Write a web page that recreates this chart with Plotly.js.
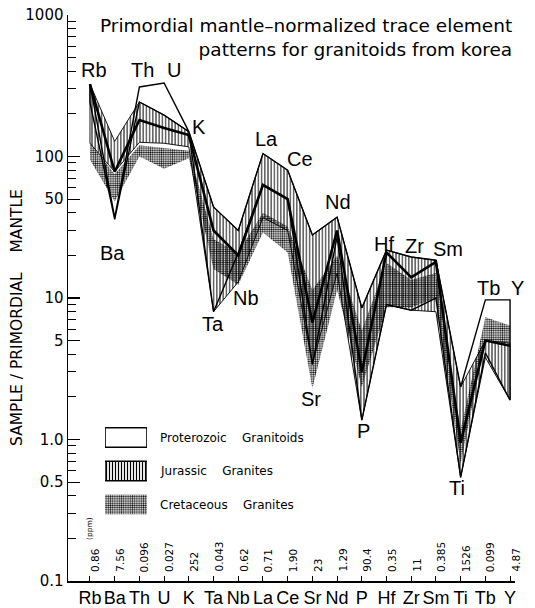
<!DOCTYPE html>
<html>
<head>
<meta charset="utf-8">
<script src="https://cdn.plot.ly/plotly-3.0.1.min.js"></script>
<style>html,body{margin:0;padding:0;background:#fff;}#chart{width:535px;height:608px;}</style>
</head>
<body>
<div id="chart"></div>
<script>
// ---- data ----
const categories = ['Rb','Ba','Th','U','K','Ta','Nb','La','Ce','Sr','Nd','P','Hf','Zr','Sm','Ti','Tb','Y'];
const ppmValues = ['0.86','7.56','0.096','0.027','252','0.043','0.62','0.71','1.90','23','1.29','90.4','0.35','11','0.385','1526','0.099','4.87'];

const proterozoicUpper = [325, 37, 310, 331, 150, 44, 30, 105, 80, 27.9, 37.3, 8.5, 21.8, 19.5, 18.5, 2.35, 9.7, 9.7];
const proterozoicLower = [240, 36, 243, 196, 150, 8, 20.8, 63, 50, 3.4, 27, 1.37, 9, 8.2, 10, 0.54, 4.1, 1.9];

const jurassicUpper = [325, 128, 243, 196, 150, 44, 30, 105, 80, 27.9, 37.3, 8.5, 21.8, 19.5, 18.5, 2.35, 5.0, 4.8];
const jurassicLower = [124, 78, 126, 124, 117, 8, 13, 37, 30, 3.4, 15, 1.37, 9, 8.2, 8, 0.54, 3.8, 1.9];
const jurassicMain  = [325, 78, 181, 159, 142, 30, 20, 63, 50, 6.7, 30, 3.0, 21, 14, 18, 0.95, 5.0, 4.6];

const cretaceousUpper = [125, 75, 120, 115, 110, 26, 21, 40, 32, 11.4, 20, 5.9, 17.7, 13.4, 15, 1.17, 7.3, 6.4];
const cretaceousLower = [95, 48, 100, 82, 97, 16, 12.4, 29, 21, 2.3, 11.4, 2.35, 8.6, 8.6, 10, 0.68, 5.0, 4.8];

const legendNames = ['Proterozoic\u00a0\u00a0\u00a0 Granitoids', 'Jurassic\u00a0\u00a0\u00a0 Granites', 'Cretaceous\u00a0\u00a0\u00a0 Granites'];

// ---- layout geometry ----
const W = 535, H = 608;
const M = {l: 68, r: 20, t: 15, b: 27};
const XR = [-0.89, 17.2];
const plotW = W - M.l - M.r, plotH = H - M.t - M.b;
const px2paperX = px => (px - M.l) / plotW;
const py2paperY = py => (H - M.b - py) / plotH;

const idx = categories.map((c, i) => i);
function band(upper, lower) {
  const x = idx.concat(idx.slice().reverse(), [idx[0]]);
  const y = upper.concat(lower.slice().reverse(), [upper[0]]);
  return {x, y};
}

const FONT = 'DejaVu Sans, sans-serif';
const LFONT = 'Liberation Sans, Arial, sans-serif';
const clear = 'rgba(255,255,255,0)';

const cre = band(cretaceousUpper, cretaceousLower);
const jur = band(jurassicUpper, jurassicLower);
const pro = band(proterozoicUpper, proterozoicLower);

const stipple = {shape: '.', size: 2.2, solidity: 0.5, fgcolor: '#111', bgcolor: clear};
const hatch = {shape: '|', size: 3.2, solidity: 0.3, fgcolor: '#000', bgcolor: clear};

const traces = [
  {x: cre.x, y: cre.y, type: 'scatter', mode: 'lines', fill: 'toself', fillcolor: clear,
   fillpattern: stipple, line: {width: 0, color: clear}, hoverinfo: 'skip', showlegend: false},
  {x: jur.x, y: jur.y, type: 'scatter', mode: 'lines', fill: 'toself', fillcolor: clear,
   fillpattern: hatch, line: {width: 0.9, color: '#000'}, hoverinfo: 'skip', showlegend: false},
  {x: idx, y: jurassicMain, type: 'scatter', mode: 'lines', line: {width: 2.6, color: '#000'},
   hoverinfo: 'skip', showlegend: false},
  {x: pro.x, y: pro.y, type: 'scatter', mode: 'lines', line: {width: 1.4, color: '#000'},
   hoverinfo: 'skip', showlegend: false}
];

// legend swatches on a small helper subplot
const sw = 0.29;
const swatchStyles = [
  {fillcolor: '#fff', line: {width: 1.6, color: '#000'}},
  {fillcolor: clear, fillpattern: {shape: '|', size: 3, solidity: 0.4, fgcolor: '#000', bgcolor: '#fff'}, line: {width: 1.4, color: '#000'}},
  {fillcolor: clear, fillpattern: {shape: '.', size: 2.2, solidity: 0.5, fgcolor: '#111', bgcolor: '#fff'}, line: {width: 0, color: clear}}
];
legendNames.forEach((n, r) => {
  traces.push(Object.assign({
    x: [0, 1, 1, 0, 0], y: [r - sw, r - sw, r + sw, r + sw, r - sw],
    xaxis: 'x2', yaxis: 'y2', type: 'scatter', mode: 'lines', fill: 'toself',
    hoverinfo: 'skip', showlegend: false, name: n
  }, swatchStyles[r]));
});

// annotations
const ann = [];
// element labels near the patterns (pixel positions)
const elemLabelPos = {
  Rb: [94, 70], Th: [142, 70], U: [174, 70], K: [199, 127], La: [266, 139], Ce: [300, 159],
  Nd: [338, 202], Hf: [384, 244], Zr: [414, 246], Sm: [448, 249], Tb: [488, 288], Y: [517, 288],
  Ba: [112, 253], Ta: [213, 324], Nb: [246, 298], Sr: [311, 399], P: [363, 431], Ti: [457, 488]
};
Object.keys(elemLabelPos).forEach(k => {
  const p = elemLabelPos[k];
  ann.push({text: k, xref: 'paper', yref: 'paper', x: px2paperX(p[0]), y: py2paperY(p[1]),
    xanchor: 'center', yanchor: 'middle', showarrow: false,
    font: {family: LFONT, size: 20, color: '#000'}});
});
// ppm values along the bottom
ppmValues.forEach((v, i) => {
  ann.push({text: v, xref: 'x', yref: 'y', x: i, y: -1, xshift: 5, yshift: 7,
    xanchor: 'center', yanchor: 'bottom', textangle: -90, showarrow: false,
    font: {family: FONT, size: 10.5, color: '#000'}});
});
ann.push({text: '(ppm)', xref: 'x', yref: 'paper', x: 0, y: py2paperY(528), xshift: -1,
  xanchor: 'center', yanchor: 'middle', textangle: -90, showarrow: false,
  font: {family: FONT, size: 7.5, color: '#000'}});
// legend text
legendNames.forEach((n, r) => {
  ann.push({text: n, xref: 'paper', yref: 'y2', x: px2paperX(158), y: r,
    xanchor: 'left', yanchor: 'middle', showarrow: false,
    font: {family: FONT, size: 12, color: '#000'}});
});
// y-axis title (placed precisely)
ann.push({text: 'SAMPLE / PRIMORDIAL\u00a0\u00a0\u00a0 MANTLE', xref: 'paper', yref: 'paper',
  x: px2paperX(17), y: py2paperY(318), xanchor: 'center', yanchor: 'middle', textangle: -90,
  showarrow: false, font: {family: FONT, size: 15.5, color: '#000'}});
// chart title
ann.push({text: 'Primordial mantle\u2013normalized trace element<br>patterns for granitoids from korea',
  xref: 'paper', yref: 'paper', x: px2paperX(514), y: py2paperY(37), xanchor: 'right', yanchor: 'middle',
  align: 'right', showarrow: false, font: {family: FONT, size: 18.5, color: '#000'}});

const layout = {
  width: W, height: H,
  margin: M,
  paper_bgcolor: '#fff', plot_bgcolor: 'rgba(0,0,0,0)',
  showlegend: false,
  xaxis: {
    range: XR, showgrid: false, zeroline: false, showline: true, linecolor: '#000', linewidth: 1.5,
    tickmode: 'array', tickvals: idx, ticktext: categories, ticks: 'inside', ticklen: 5, tickcolor: '#000',
    tickangle: 0, tickfont: {family: LFONT, size: 18, color: '#000'}, automargin: false, fixedrange: true
  },
  yaxis: {
    type: 'log', range: [-1, 3], showgrid: false, zeroline: false, showline: true, linecolor: '#000', linewidth: 1.5,
    tickmode: 'array', tickvals: [0.1, 0.5, 1, 5, 10, 50, 100, 1000],
    ticktext: ['0.1', '0.5', '1.0', '5', '10', '50', '100', '1000'],
    ticks: 'inside', ticklen: 12, tickcolor: '#000', tickwidth: 1.2,
    minor: {tickvals: [0.2,0.3,0.4,0.6,0.7,0.8,0.9,2,3,4,6,7,8,9,20,30,40,60,70,80,90,200,300,400,500,600,700,800,900],
            ticks: 'inside', ticklen: 8, tickcolor: '#000', tickwidth: 1},
    tickfont: {family: FONT, size: 15, color: '#000'}, automargin: false, fixedrange: true
  },
  xaxis2: {domain: [px2paperX(105), px2paperX(147)], range: [0, 1], visible: false, anchor: 'y2', fixedrange: true},
  yaxis2: {domain: [py2paperY(521.25), py2paperY(420.75)], range: [2.5, -0.5], visible: false, anchor: 'x2', fixedrange: true},
  annotations: ann
};

Plotly.newPlot('chart', traces, layout, {staticPlot: true, displayModeBar: false});
</script>
</body>
</html>
